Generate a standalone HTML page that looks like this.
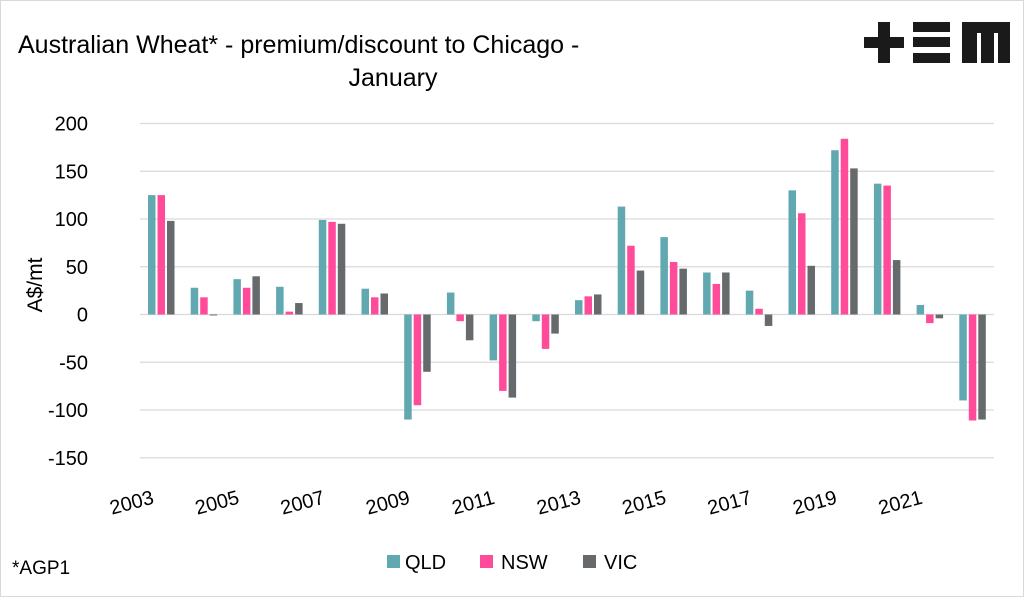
<!DOCTYPE html>
<html><head><meta charset="utf-8"><style>
body{margin:0;background:#fff}
svg{display:block;font-family:"Liberation Sans",Arial,sans-serif}
</style></head><body>
<svg id="c" width="1024" height="597" viewBox="0 0 1024 597">
<rect x="0.5" y="0.5" width="1023" height="596" fill="#fff" stroke="#d9d9d9"/>
<text x="18" y="53" font-size="25" fill="#000">Australian Wheat* - premium/discount to Chicago -</text>
<text x="393" y="86" font-size="25" text-anchor="middle" fill="#000">January</text>
<g fill="#1a1a1a">
<rect x="864" y="37" width="40" height="11"/><rect x="878" y="22" width="12" height="41"/>
<rect x="913" y="22" width="37" height="10"/><rect x="913" y="37" width="37" height="10"/><rect x="913" y="53" width="37" height="10"/>
<rect x="962" y="22" width="48" height="11"/><rect x="962" y="22" width="15" height="41"/><rect x="981" y="22" width="13" height="41"/><rect x="998" y="22" width="12" height="41"/>
</g>
<text transform="translate(42,285) rotate(-90)" font-size="21" text-anchor="middle">A$/mt</text>
<g id="grid"></g><g id="bars"></g><g id="xl"></g>
<text x="12" y="574" font-size="19">*AGP1</text>
<g>
<rect x="387" y="555" width="13" height="13" fill="#62a8b0"/>
<text x="405" y="569" font-size="20">QLD</text>
<rect x="480" y="555" width="13" height="13" fill="#ff4b9a"/>
<text x="501" y="569" font-size="20">NSW</text>
<rect x="583" y="555" width="13" height="13" fill="#666a6d"/>
<text x="604" y="569" font-size="20">VIC</text>
</g>
</svg>
<script>
const years=[2003,2004,2005,2006,2007,2008,2009,2010,2011,2012,2013,2014,2015,2016,2017,2018,2019,2020,2021,2022];
const qld=[125,28,37,29,99,27,-110,23,-48,-7,15,113,81,44,25,130,172,137,10,-90];
const nsw=[125,18,28,3,97,18,-95,-7,-80,-36,19,72,55,32,6,106,184,135,-9,-111];
const vic=[98,-1,40,12,95,22,-60,-27,-87,-20,21,46,48,44,-12,51,153,57,-4,-110];
const yTicks=[200,150,100,50,0,-50,-100,-150];
const NS='http://www.w3.org/2000/svg';
const x0=140,x1=994,band=(x1-x0)/years.length;
function y(v){return 314.5-v*0.955;}
function mk(t,a,p){const e=document.createElementNS(NS,t);for(const k in a)e.setAttribute(k,a[k]);p.appendChild(e);return e;}
const grid=document.getElementById('grid'),bars=document.getElementById('bars'),xl=document.getElementById('xl');
yTicks.forEach(t=>{
 const l=mk('line',{x1:x0,x2:x1,y1:y(t),y2:y(t),stroke:'#d9d9d9','stroke-width':1.3},grid);
 
 
 const tx=mk('text',{x:88,y:y(t)+7,'font-size':20,'text-anchor':'end'},grid);
 tx.textContent=t;
 
 
});
const series=[[qld,'#62a8b0','qld'],[nsw,'#ff4b9a','nsw'],[vic,'#666a6d','vic']];
years.forEach((yr,i)=>{
 series.forEach(([arr,c,n],j)=>{
  const v=arr[i],bx=x0+i*band+8+j*9.5;
  const r=mk('rect',{x:bx,y:Math.min(y(v),y(0)),width:7.5,height:Math.max(Math.abs(y(v)-y(0)),0.8),fill:c},bars);
  
  
 });
 if(i%2===0&&i<19){
  const cx=x0+i*band+band/2-28;
  const t=mk('text',{transform:'translate('+cx+',509) rotate(-15)','font-size':20,'text-anchor':'middle'},xl);
  t.textContent=yr;
  
  
 }
});
</script>
</body></html>
